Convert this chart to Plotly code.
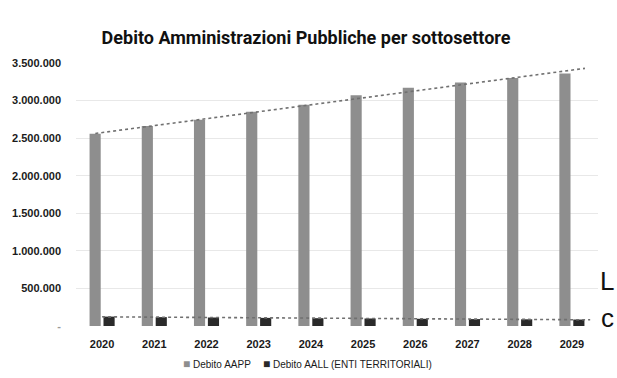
import numpy as np
import plotly.graph_objects as go

# Debt of the public administrations by subsector (millions of euro)
years = [2020, 2021, 2022, 2023, 2024, 2025, 2026, 2027, 2028, 2029]
debito_aapp = [2560000, 2660000, 2745000, 2850000, 2945000, 3070000, 3170000, 3240000, 3300000, 3360000]
debito_aall = [125000, 118000, 113000, 108000, 104000, 100000, 96000, 92000, 89000, 86000]

y_tickvals = [0, 500000, 1000000, 1500000, 2000000, 2500000, 3000000, 3500000]
y_ticktext = ["<span style='color:#9a9a9a'>-</span>", "500.000", "1.000.000", "1.500.000",
              "2.000.000", "2.500.000", "3.000.000", "3.500.000"]

name_aapp = "Debito AAPP"
name_aall = "Debito AALL (ENTI TERRITORIALI)"

col_aapp = "#8e8e8e"
col_aall = "#2a2a2a"

# plot-area geometry in pixels (used to place paper-referenced labels)
W, H = 617, 378
ML, MR, MT, MB = 74, 19, 63, 52
PW, PH = W - ML - MR, H - MT - MB


def px_x(px):
    return (px - ML) / PW


def px_y(py):
    return (H - MB - py) / PH


fig = go.Figure()

fig.add_trace(go.Bar(
    x=years, y=debito_aapp, name=name_aapp, showlegend=False,
    marker=dict(color=col_aapp, line=dict(width=0)),
))
fig.add_trace(go.Bar(
    x=years, y=debito_aall, name=name_aall, showlegend=False,
    marker=dict(color=col_aall, line=dict(width=0)),
))


# Linear trend lines for each series
def trend(values, x0, x1):
    slope, intercept = np.polyfit(years, values, 1)
    xs = np.array([x0, x1])
    return xs, slope * xs + intercept


tx, ty = trend(debito_aapp, 2019.87, 2029.25)
fig.add_trace(go.Scatter(
    x=tx, y=ty, mode="lines", showlegend=False, hoverinfo="skip",
    line=dict(color="#707070", width=1.6, dash="dot"),
))
tx, ty = trend(debito_aall, 2020.0, 2029.35)
fig.add_trace(go.Scatter(
    x=tx, y=ty, mode="lines", showlegend=False, hoverinfo="skip",
    line=dict(color="#707070", width=1.6, dash="dot"),
))

fig.update_layout(
    width=W, height=H,
    margin=dict(l=ML, r=MR, t=MT, b=MB),
    paper_bgcolor="white", plot_bgcolor="white",
    barmode="group", bargap=0.466, bargroupgap=0.2,
    font=dict(family="Liberation Sans, Arial, sans-serif", color="#1a1a1a"),
    title=dict(
        text="<b>Debito Amministrazioni Pubbliche per sottosettore</b>",
        x=0.496, xref="container", xanchor="center",
        y=1 - 38 / H, yref="container", yanchor="middle",
        font=dict(size=18, color="#111111", family="Roboto, Liberation Sans, Arial, sans-serif"),
    ),
    xaxis=dict(
        range=[2019.5, 2029.5], tickmode="array", tickvals=years,
        ticktext=[str(y) for y in years],
        showgrid=False, zeroline=False, showline=False, ticks="",
        tickfont=dict(size=11, color="#1a1a1a", weight="bold"),
        ticklabelstandoff=10,
    ),
    yaxis=dict(
        range=[0, 3500000], tickmode="array", tickvals=y_tickvals, ticktext=y_ticktext,
        showgrid=True, gridcolor="#e8e8e8", gridwidth=1,
        zeroline=False, showline=False, ticks="",
        tickfont=dict(size=11, color="#1a1a1a", weight="bold"),
        ticklabelstandoff=14,
    ),
    showlegend=False,
)

# Compact legend: small square swatch followed by the series name
for name, col, xpx in [(name_aapp, col_aapp, 179), (name_aall, col_aall, 260)]:
    fig.add_annotation(
        text=f"<span style='color:{col};font-size:12px'>■</span> {name}",
        xref="paper", yref="paper", x=px_x(xpx), y=px_y(364),
        xanchor="left", yanchor="middle", showarrow=False,
        font=dict(size=10, color="#1a1a1a", family="Liberation Sans, Arial, sans-serif"),
    )

# Fragments of the surrounding page text at the right edge
for txt, ypx in [("L", 281), ("c", 318)]:
    fig.add_annotation(
        text=txt, xref="paper", yref="paper",
        x=px_x(616), y=px_y(ypx),
        xanchor="right", yanchor="middle", showarrow=False,
        font=dict(size=26, color="#111111", family="Liberation Sans, Arial, sans-serif"),
    )

fig.write_html("out.html")
